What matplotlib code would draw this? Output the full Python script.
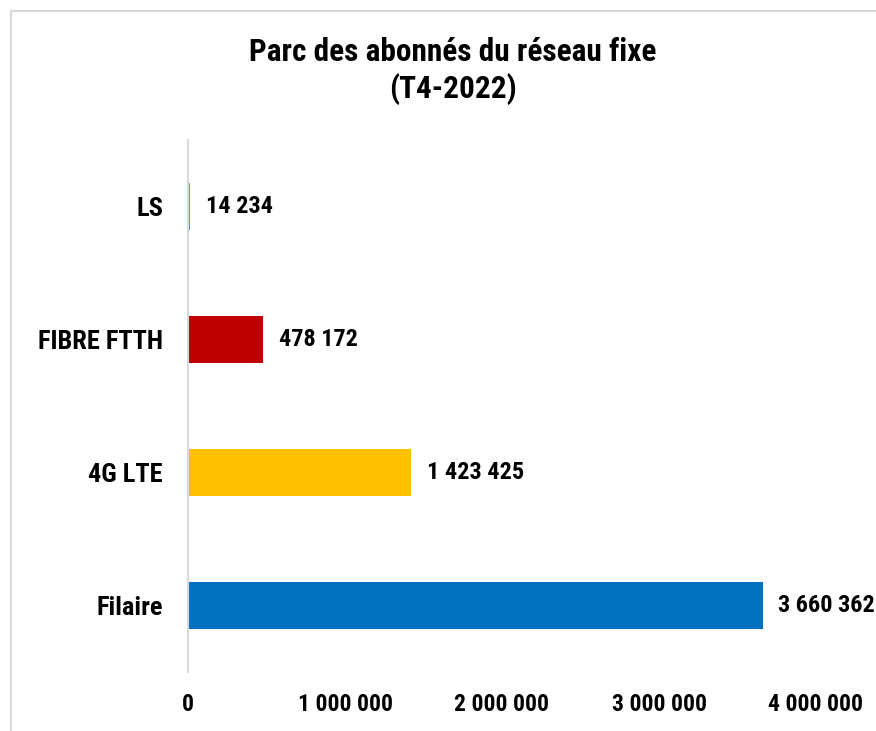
import matplotlib
matplotlib.use("Agg")
import matplotlib.pyplot as plt
from matplotlib import font_manager
from matplotlib.lines import Line2D

fl = font_manager.fontManager.ttflist
names = {f.name for f in fl}
fam = None
stretch = 'normal'
for cand in ["Liberation Sans Narrow", "Arial Narrow", "Roboto Condensed", "Open Sans Condensed"]:
    if cand in names:
        fam = cand
        break
if fam is None:
    cond = [f.name for f in fl if ('Narrow' in f.name or 'Condensed' in f.name)]
    if cond:
        fam = cond[0]
if fam is None:
    if any('Condensed' in f.fname for f in fl if f.name == 'DejaVu Sans'):
        fam = 'DejaVu Sans'
        stretch = 'condensed'
    else:
        fam = 'Liberation Sans'
plt.rcParams['font.family'] = [fam, 'DejaVu Sans']
plt.rcParams['font.stretch'] = stretch

categories = ["Filaire", "4G LTE", "FIBRE FTTH", "LS"]
values = [3660362, 1423425, 478172, 14234]
colors = ["#0070C0", "#FFC000", "#C00000", "#5B9BD5"]
xticks = [0, 1000000, 2000000, 3000000, 4000000]
title = "Parc des abonnés du réseau fixe\n(T4-2022)"

def fmt(v):
    return f"{v:,}".replace(",", " ")

W, H = 876, 731
fig = plt.figure(figsize=(W/100, H/100), dpi=100)
ax = fig.add_axes([188/W, 1-672/H, (816-188)/W, (672-140)/H])

y = range(len(categories))
ax.barh(y, values, height=0.36, color=colors, linewidth=0, zorder=2)
ax.set_xlim(0, 4000000)
ax.set_ylim(-0.5, len(categories)-0.5)
ax.set_yticks(list(y))
ax.set_yticklabels(categories, fontsize=19, fontweight='bold')
ax.set_xticks(xticks)
ax.set_xticklabels([fmt(t) for t in xticks], fontsize=17, fontweight='bold')
ax.tick_params(axis='both', length=0)
ax.tick_params(axis='y', pad=18)
ax.tick_params(axis='x', pad=15)
for s in ['top', 'right', 'bottom']:
    ax.spines[s].set_visible(False)
ax.spines['left'].set_color('#D9D9D9')
ax.spines['left'].set_linewidth(1.5)

for yi, v in zip(y, values):
    ax.text(v + 100000, yi, fmt(v), va='center', ha='left', fontsize=17.5, fontweight='bold')

fig.text(453/W, 1-71/H, title, ha='center', va='center', fontsize=22.5, fontweight='bold', linespacing=1.25)

fig.add_artist(Line2D([11/W, 1], [1-11/H, 1-11/H], color='#D9D9D9', lw=1.5, transform=fig.transFigure))
fig.add_artist(Line2D([11/W, 11/W], [0, 1-11/H], color='#D9D9D9', lw=1.5, transform=fig.transFigure))

fig.savefig("out.png", dpi=100)
